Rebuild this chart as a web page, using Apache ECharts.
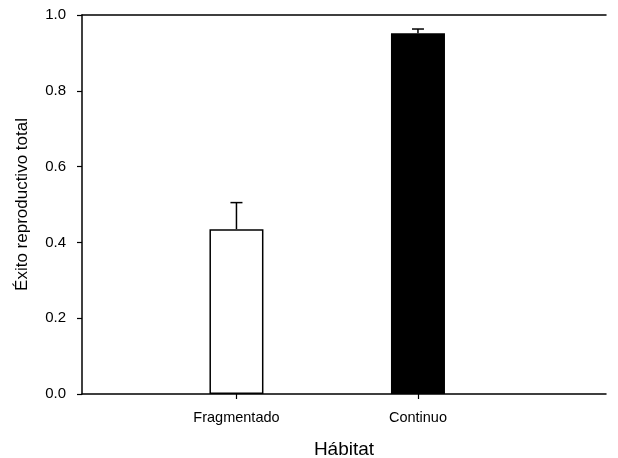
<!DOCTYPE html>
<html>
<head>
<meta charset="utf-8">
<script src="https://cdn.jsdelivr.net/npm/echarts@6/dist/echarts.min.js"></script>
<style>html,body{margin:0;padding:0;background:#fff}#c{width:618px;height:458px}</style>
</head>
<body>
<div id="c"></div>
<script>
var categories = ['Fragmentado', 'Continuo'];
var positions = [1, 2];
var means = [0.435, 0.952];
var upperErr = [0.505, 0.963];
var barColors = ['#ffffff', '#000000'];
var yTicks = [0, 0.2, 0.4, 0.6, 0.8, 1.0];

var chart = echarts.init(document.getElementById('c'), null, {renderer: 'canvas'});
var font = 'Liberation Sans, Arial, sans-serif';
var barData = positions.map(function (p, i) {
  return {value: [p, means[i]], itemStyle: {color: barColors[i], borderColor: '#000', borderWidth: 1.5}};
});
var errData = positions.map(function (p, i) { return [p, means[i], upperErr[i]]; });

chart.setOption({
  animation: false,
  backgroundColor: '#fff',
  grid: {left: 82, right: 12, top: 15, bottom: 64, containLabel: false, outerBoundsMode: 'none'},
  xAxis: [{
    type: 'value', min: 0.149, max: 3.036,
    splitLine: {show: false},
    axisLine: {show: true, onZero: false, lineStyle: {color: '#000', width: 1.5}},
    axisTick: {show: true, customValues: positions, length: 5, lineStyle: {color: '#000', width: 1.2}},
    axisLabel: {customValues: positions, margin: 16, color: '#000', fontFamily: font, fontSize: 14.5,
      formatter: function (v) { var i = positions.indexOf(v); return i >= 0 ? categories[i] : ''; }},
    name: 'Hábitat', nameLocation: 'middle', nameGap: 46,
    nameTextStyle: {color: '#000', fontFamily: font, fontSize: 19}
  }, {
    type: 'value', position: 'top', min: 0.149, max: 3.036,
    splitLine: {show: false},
    axisLine: {show: true, onZero: false, lineStyle: {color: '#000', width: 1.5}},
    axisTick: {show: false}, axisLabel: {show: false}
  }],
  yAxis: {
    type: 'value', min: 0, max: 1, interval: 0.2,
    splitLine: {show: false},
    axisLine: {show: true, lineStyle: {color: '#000', width: 1.5}},
    axisTick: {show: true, inside: false, length: 5, lineStyle: {color: '#000', width: 1.2}},
    axisLabel: {margin: 16, color: '#000', fontFamily: font, fontSize: 15,
      formatter: function (v) { return v.toFixed(1); }},
    name: 'Éxito reproductivo total', nameLocation: 'middle', nameGap: 51,
    nameTextStyle: {color: '#000', fontFamily: font, fontSize: 17}
  },
  series: [{
    type: 'bar', xAxisIndex: 0, barWidth: 54, data: barData, z: 2
  }, {
    type: 'custom', xAxisIndex: 0, z: 3, data: errData,
    renderItem: function (params, api) {
      var x = api.value(0);
      var base = api.coord([x, api.value(1)]);
      var top = api.coord([x, api.value(2)]);
      return {
        type: 'group',
        children: [
          {type: 'line', shape: {x1: base[0], y1: base[1], x2: top[0], y2: top[1]}, style: {stroke: '#000', lineWidth: 1.5}},
          {type: 'line', shape: {x1: top[0] - 6, y1: top[1], x2: top[0] + 6, y2: top[1]}, style: {stroke: '#000', lineWidth: 1.5}}
        ]
      };
    }
  }]
});
</script>
</body>
</html>
